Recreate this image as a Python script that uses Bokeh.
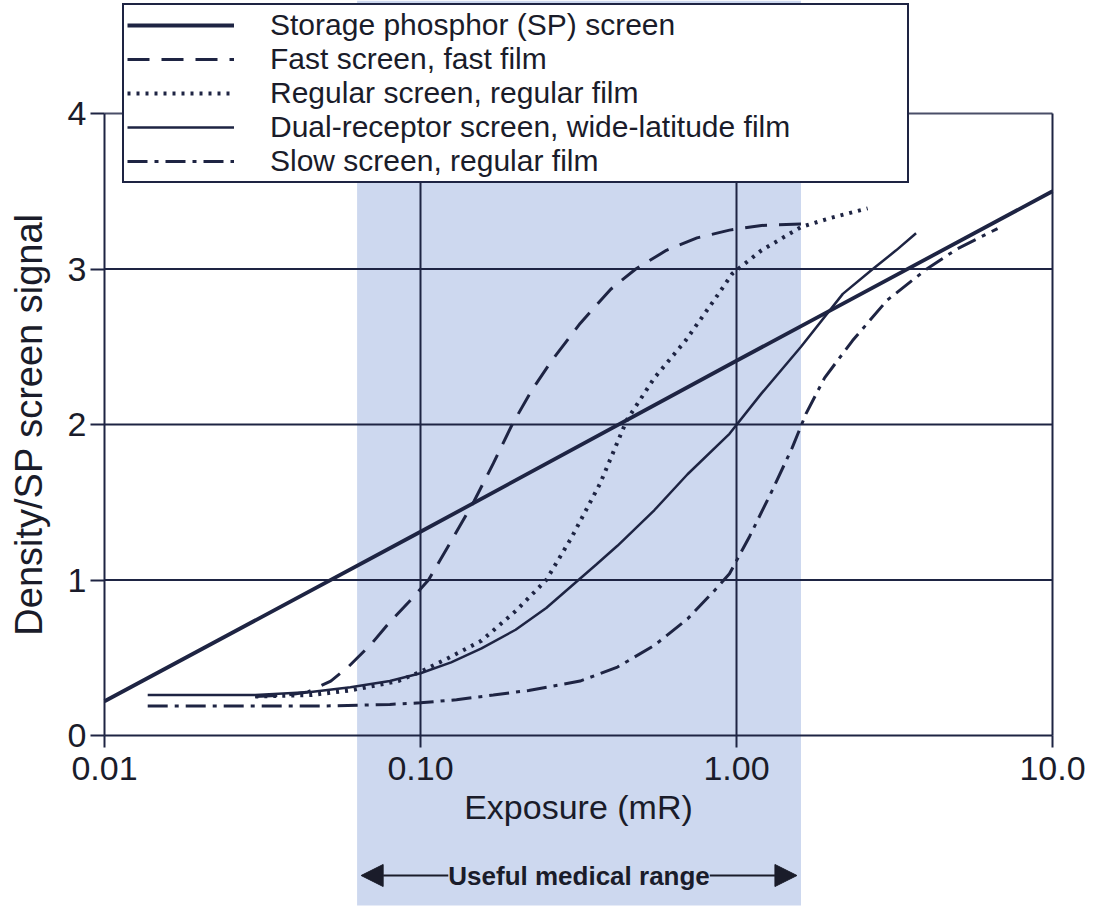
from bokeh.plotting import figure
from bokeh.models import (Legend, LegendItem, FixedTicker, BoxAnnotation, Arrow,
                          NormalHead, Label, LogAxis, LinearAxis)
from bokeh.embed import file_html
from bokeh.resources import INLINE

# ---------------- data ----------------
x_ticks = [0.01, 0.1, 1, 10]
x_tick_labels = ["0.01", "0.10", "1.00", "10.0"]
y_ticks = [0, 1, 2, 3, 4]
x_grid = [0.1, 1]
y_grid = [1, 2, 3]

series_names = [
    "Storage phosphor (SP) screen",
    "Fast screen, fast film",
    "Regular screen, regular film",
    "Dual-receptor screen, wide-latitude film",
    "Slow screen, regular film",
]

sp_x = [0.01, 0.1, 1.0, 10.0]
sp_y = [0.22, 1.31, 2.41, 3.50]

fast_x = [0.03, 0.038, 0.044, 0.052, 0.059, 0.07, 0.08, 0.092, 0.106, 0.125, 0.148,
          0.17, 0.195, 0.225, 0.26, 0.32, 0.4, 0.48, 0.6, 0.75, 0.95, 1.2, 1.6]
fast_y = [0.25, 0.26, 0.28, 0.35, 0.44, 0.59, 0.73, 0.86, 1.0, 1.25, 1.51,
          1.75, 2.0, 2.22, 2.41, 2.65, 2.87, 3.0, 3.12, 3.2, 3.25, 3.28, 3.29]

reg_x = [0.03, 0.045, 0.06, 0.085, 0.1, 0.123, 0.156, 0.2, 0.25, 0.3, 0.37, 0.45,
         0.55, 0.69, 0.85, 0.97, 1.2, 1.6, 2.0, 2.6]
reg_y = [0.25, 0.26, 0.29, 0.35, 0.41, 0.5, 0.61, 0.8, 1.0, 1.27, 1.62, 2.03,
         2.3, 2.54, 2.8, 2.97, 3.12, 3.27, 3.33, 3.39]

dual_x = [0.0137, 0.03, 0.045, 0.06, 0.08, 0.1, 0.125, 0.156, 0.2, 0.25, 0.36, 0.42,
          0.55, 0.7, 0.95, 1.2, 1.6, 2.17, 2.7, 3.2, 3.7]
dual_y = [0.26, 0.26, 0.28, 0.31, 0.35, 0.4, 0.47, 0.56, 0.68, 0.82, 1.1, 1.22,
          1.45, 1.68, 1.94, 2.2, 2.5, 2.84, 3.0, 3.12, 3.23]

slow_x = [0.0137, 0.05, 0.08, 0.1, 0.13, 0.17, 0.22, 0.32, 0.42, 0.55, 0.7, 0.85,
          0.95, 1.1, 1.3, 1.5, 1.66, 1.9, 2.33, 3.0, 4.0, 5.0, 6.7]
slow_y = [0.19, 0.19, 0.2, 0.21, 0.23, 0.26, 0.29, 0.35, 0.44, 0.58, 0.75, 0.93,
          1.04, 1.28, 1.58, 1.85, 2.07, 2.3, 2.54, 2.8, 3.0, 3.13, 3.26]

range_lo, range_hi = 0.063, 1.6
range_label = "Useful medical range"

# ---------------- layout (pixel geometry of the plot box) ----------------
W, H = 1100, 912
PX_LEFT, PX_DECADE = 104, 316          # x = 0.01 at 104 px, 316 px per decade
PX_ZERO, PX_UNIT = 735, 155.5          # y = 0 at 735 px, 155.5 px per unit
x_lo, x_hi = x_ticks[0], x_ticks[-1]
y_lo, y_hi = y_ticks[0], y_ticks[-1]
xr = (10 ** (-2 - PX_LEFT / PX_DECADE), 10 ** (-2 + (W - PX_LEFT) / PX_DECADE))
yr = ((PX_ZERO - H) / PX_UNIT, PX_ZERO / PX_UNIT)
arrow_y = (PX_ZERO - 875) / PX_UNIT
band_bottom = (PX_ZERO - 905) / PX_UNIT
LEG_BOTTOM = 183

# ---------------- style ----------------
LINE = "#1e2443"
TEXT = "#1a1c2a"
BAND = "#cdd8ef"
FONT = "Liberation Sans"

p = figure(x_axis_type="log", x_range=xr, y_range=yr,
           frame_width=W, frame_height=H,
           min_border_left=0, min_border_right=0, min_border_top=0, min_border_bottom=0,
           output_backend="svg", toolbar_location=None)

p.background_fill_color = "white"
p.border_fill_color = "white"
p.outline_line_color = None
p.grid.visible = False

# band of useful medical range (behind everything)
band = BoxAnnotation(left=range_lo, right=range_hi, bottom=band_bottom,
                     fill_color=BAND, fill_alpha=1.0, line_alpha=0, level="image")
p.add_layout(band)

# grid lines, bounded to the plot box
p.segment(x0=x_grid, y0=[y_lo] * len(x_grid), x1=x_grid, y1=[y_hi] * len(x_grid),
          line_color=LINE, line_width=2)
p.segment(x0=[x_lo] * len(y_grid), y0=y_grid, x1=[x_hi] * len(y_grid), y1=y_grid,
          line_color=LINE, line_width=2)

# axes
xa = p.xaxis[0]
ya = p.yaxis[0]
xa.fixed_location = y_lo
xa.bounds = (x_lo, x_hi)
ya.fixed_location = x_lo
ya.bounds = (y_lo, y_hi)
xa.ticker = FixedTicker(ticks=x_ticks, minor_ticks=[])
xa.major_label_overrides = {t: lab for t, lab in zip(x_ticks, x_tick_labels)}
ya.ticker = FixedTicker(ticks=y_ticks, minor_ticks=[])
for ax in (xa, ya):
    ax.axis_line_color = LINE
    ax.axis_line_width = 2
    ax.major_tick_line_color = LINE
    ax.major_tick_line_width = 2
    ax.major_tick_in = 0
    ax.minor_tick_line_color = None
    ax.major_label_text_font = FONT
    ax.major_label_text_font_size = "34px"
    ax.major_label_text_color = TEXT
    ax.axis_label_text_font = FONT
    ax.axis_label_text_font_style = "normal"
    ax.axis_label_text_color = TEXT
xa.axis_label_text_font_size = "34px"
ya.axis_label_text_font_size = "38px"
xa.major_tick_out = 12
ya.major_tick_out = 14
xa.major_label_standoff = 9
ya.major_label_standoff = 4
xa.axis_label = "Exposure (mR)"
xa.axis_label_standoff = 5
ya.axis_label = "Density/SP screen signal"
ya.axis_label_standoff = 15

# frame top and right edges
top_ax = LogAxis(fixed_location=y_hi, bounds=(x_lo, x_hi),
                 ticker=FixedTicker(ticks=[], minor_ticks=[]),
                 axis_line_color="#4a4f68", axis_line_width=2,
                 major_tick_line_color=None, minor_tick_line_color=None,
                 major_label_text_font_size="0px")
p.add_layout(top_ax, "above")
right_ax = LinearAxis(fixed_location=x_hi, bounds=(y_lo, y_hi),
                      ticker=FixedTicker(ticks=[], minor_ticks=[]),
                      axis_line_color=LINE, axis_line_width=2,
                      major_tick_line_color=None, minor_tick_line_color=None,
                      major_label_text_font_size="0px")
p.add_layout(right_ax, "right")

# curves
r_sp = p.line(sp_x, sp_y, line_color=LINE, line_width=3.8)
r_fast = p.line(fast_x, fast_y, line_color=LINE, line_width=3, line_dash="22 12")
r_reg = p.line(reg_x, reg_y, line_color=LINE, line_width=4, line_dash="3 6")
r_dual = p.line(dual_x, dual_y, line_color=LINE, line_width=2.5)
r_slow = p.line(slow_x, slow_y, line_color=LINE, line_width=3, line_dash="20 7 4 7")

renderers = [r_sp, r_fast, r_reg, r_dual, r_slow]
legend = Legend(items=[LegendItem(label=n, renderers=[r]) for n, r in zip(series_names, renderers)],
                location=(122, H - LEG_BOTTOM), orientation="vertical",
                label_text_font=FONT, label_text_font_size="30px", label_text_color=TEXT,
                label_height=30, label_width=634,
                glyph_width=107, glyph_height=30, label_standoff=36,
                padding=3, spacing=0, margin=0,
                border_line_color=LINE, border_line_width=2, border_line_alpha=1.0,
                background_fill_color="white", background_fill_alpha=1.0)
p.add_layout(legend)

# useful medical range arrow + text
head_l = NormalHead(size=22, fill_color=TEXT, line_color=TEXT)
head_r = NormalHead(size=22, fill_color=TEXT, line_color=TEXT)
arrow = Arrow(start=head_l, end=head_r, x_start=range_lo * 1.03, x_end=range_hi / 1.03,
              y_start=arrow_y, y_end=arrow_y, line_color=TEXT, line_width=2)
p.add_layout(arrow)
lab = Label(x=(range_lo * range_hi) ** 0.5, y=arrow_y, text=range_label,
            text_align="center", text_baseline="middle",
            text_font=FONT, text_font_size="26px", text_font_style="bold",
            text_color=TEXT, background_fill_color=BAND, background_fill_alpha=1.0)
p.add_layout(lab)

open("out.html", "w").write(file_html(p, INLINE))
